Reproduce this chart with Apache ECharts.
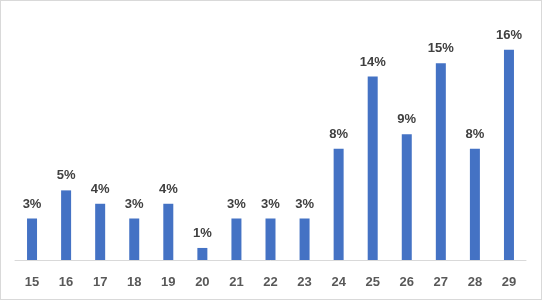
<!DOCTYPE html>
<html><head><meta charset="utf-8">
<script src="https://cdn.jsdelivr.net/npm/echarts@6/dist/echarts.min.js"></script>
<style>
html,body{margin:0;padding:0;background:#fff;}
#c{position:absolute;left:0;top:0;width:540px;height:298px;border:1px solid #d9d9d9;}
</style></head>
<body><div id="c"></div>
<script>
const categories = ['15','16','17','18','19','20','21','22','23','24','25','26','27','28','29'];
const values = [3.1, 5.2, 4.2, 3.1, 4.2, 0.9, 3.1, 3.1, 3.1, 8.3, 13.7, 9.4, 14.7, 8.3, 15.7];
const chart = echarts.init(document.getElementById('c'));
chart.setOption({
  animation:false,
  grid:{left:14,right:15,top:18,bottom:39},
  xAxis:{type:'category',data:categories,
    axisLine:{lineStyle:{color:'#d9d9d9',width:1}},
    axisTick:{show:false},
    axisLabel:{color:'#595959',fontFamily:'Liberation Sans',fontWeight:'bold',fontSize:13,margin:16}},
  yAxis:{type:'value',min:0,max:18,show:false,splitLine:{show:false}},
  series:[{type:'bar',data:values,barWidth:10,
    itemStyle:{color:'#4472C4'},
    label:{show:true,position:'top',distance:8,color:'#404040',fontFamily:'Liberation Sans',fontWeight:'bold',fontSize:13,
      formatter:p=>Math.round(p.value)+'%'}}]
});
</script></body></html>
